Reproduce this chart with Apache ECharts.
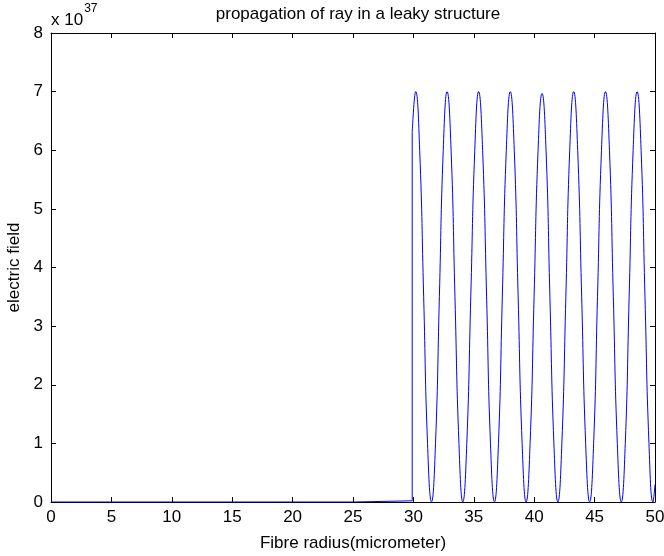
<!DOCTYPE html>
<html>
<head>
<meta charset="utf-8">
<script src="https://cdn.jsdelivr.net/npm/echarts@6/dist/echarts.min.js"></script>
<style>
  html, body { margin: 0; padding: 0; background: #fff; }
  #chart { width: 664px; height: 556px; }
</style>
</head>
<body>
<div id="chart"></div>
<script>
// fibre radius (micrometer) vs electric field (x 10^37)
const xTicks = [0, 5, 10, 15, 20, 25, 30, 35, 40, 45, 50];
const yTicks = [0, 1, 2, 3, 4, 5, 6, 7, 8];

// guided region: flat up to the jump near 30 um
const flatX = [0, 25, 25.02, 29.9, 29.9];
const flatY = [0, 0, 0.02, 0.02, 6.3];

// leaky region: oscillation
const waveX = [
  29.9, 30.19, 30.52, 30.85, 31.17, 31.5, 31.83, 32.15, 32.47,
  32.79, 33.12, 33.44, 33.77, 34.09, 34.42, 34.75, 35.08,
  35.4, 35.73, 36.06, 36.38, 36.71, 37.04, 37.36, 37.69,
  38.02, 38.35, 38.67, 39.0, 39.33, 39.66, 39.99, 40.32,
  40.65, 40.98, 41.3, 41.63, 41.96, 42.29, 42.62, 42.94,
  43.27, 43.6, 43.93, 44.26, 44.59, 44.92, 45.24, 45.57,
  45.9, 46.23, 46.55, 46.88, 47.21, 47.54, 47.86, 48.19,
  48.52, 48.85, 49.17, 49.5, 49.83, 50.0
];
const waveY = [
  6.3, 7.0, 6.0, 3.5, 1.0, 0, 1.0, 3.5, 6.0,
  7.0, 6.0, 3.5, 1.0, 0, 1.0, 3.5, 6.0,
  7.0, 6.0, 3.5, 1.0, 0, 1.0, 3.5, 6.0,
  7.0, 6.0, 3.5, 1.0, 0, 1.0, 3.5, 6.0,
  6.97, 6.0, 3.5, 1.0, 0, 1.0, 3.5, 6.0,
  7.0, 6.0, 3.5, 1.0, 0, 1.0, 3.5, 6.0,
  7.0, 6.0, 3.5, 1.0, 0, 1.0, 3.5, 6.0,
  7.0, 6.0, 3.5, 1.0, 0, 0.3
];

const font = "'Liberation Sans', Arial, sans-serif";
const chart = echarts.init(document.getElementById('chart'));

const zip = (xs, ys) => xs.map((x, i) => [x, ys[i]]);

const xMin = xTicks[0], xMax = xTicks[xTicks.length - 1];
const yMin = yTicks[0], yMax = yTicks[yTicks.length - 1];

const tickStyle = { inside: true, length: 5, lineStyle: { color: '#000', width: 1 } };

const option = {
    animation: false,
    backgroundColor: '#fff',
    title: {
        text: 'propagation of ray in a leaky structure',
        left: 353,
        top: 1,
        textAlign: 'center',
        textStyle: { fontFamily: font, fontSize: 17, fontWeight: 'normal', color: '#000' },
    },
    grid: { left: 51, right: 9, top: 33, bottom: 54, containLabel: false, outerBoundsMode: 'none' },
    xAxis: [
        {
            type: 'value',
            min: xMin,
            max: xMax,
            interval: 5,
            name: 'Fibre radius(micrometer)',
            nameLocation: 'middle',
            nameGap: 33,
            nameTextStyle: { fontFamily: font, fontSize: 17, color: '#000' },
            axisLine: { show: true, onZero: false, lineStyle: { color: '#000', width: 1 } },
            axisTick: tickStyle,
            axisLabel: { fontFamily: font, fontSize: 17, color: '#000', margin: 7 },
            splitLine: { show: false },
        },
        {
            type: 'value',
            position: 'top',
            min: xMin,
            max: xMax,
            interval: 5,
            axisLine: { show: true, onZero: false, lineStyle: { color: '#000', width: 1 } },
            axisTick: tickStyle,
            axisLabel: { show: false },
            splitLine: { show: false },
        },
    ],
    yAxis: [
        {
            type: 'value',
            min: yMin,
            max: yMax,
            interval: 1,
            name: 'electric field',
            nameLocation: 'middle',
            nameGap: 27,
            nameTextStyle: { fontFamily: font, fontSize: 17, color: '#000' },
            axisLine: { show: true, onZero: false, lineStyle: { color: '#000', width: 1 } },
            axisTick: tickStyle,
            axisLabel: { fontFamily: font, fontSize: 17, color: '#000', margin: 8 },
            splitLine: { show: false },
        },
        {
            type: 'value',
            position: 'right',
            min: yMin,
            max: yMax,
            interval: 1,
            axisLine: { show: true, onZero: false, lineStyle: { color: '#000', width: 1 } },
            axisTick: tickStyle,
            axisLabel: { show: false },
            splitLine: { show: false },
        },
    ],
    graphic: [
        {
            type: 'text',
            left: 51,
            top: 3,
            style: {
                text: '{b|x 10}{s|37}',
                rich: {
                    b: { fontFamily: font, fontSize: 17, fill: '#000', padding: [14, 0, 0, 0] },
                    s: { fontFamily: font, fontSize: 12, fill: '#000', padding: [0, 0, 8, 1] },
                },
            },
        },
    ],
    series: [
        {
            type: 'line',
            data: zip(flatX, flatY),
            showSymbol: false,
            lineStyle: { color: '#0000ff', width: 1 },
            z: 3,
        },
        {
            type: 'line',
            data: zip(waveX, waveY),
            showSymbol: false,
            smooth: 0.5,
            lineStyle: { color: '#0000ff', width: 1 },
            z: 3,
        },
    ],
};

chart.setOption(option);
</script>
</body>
</html>
